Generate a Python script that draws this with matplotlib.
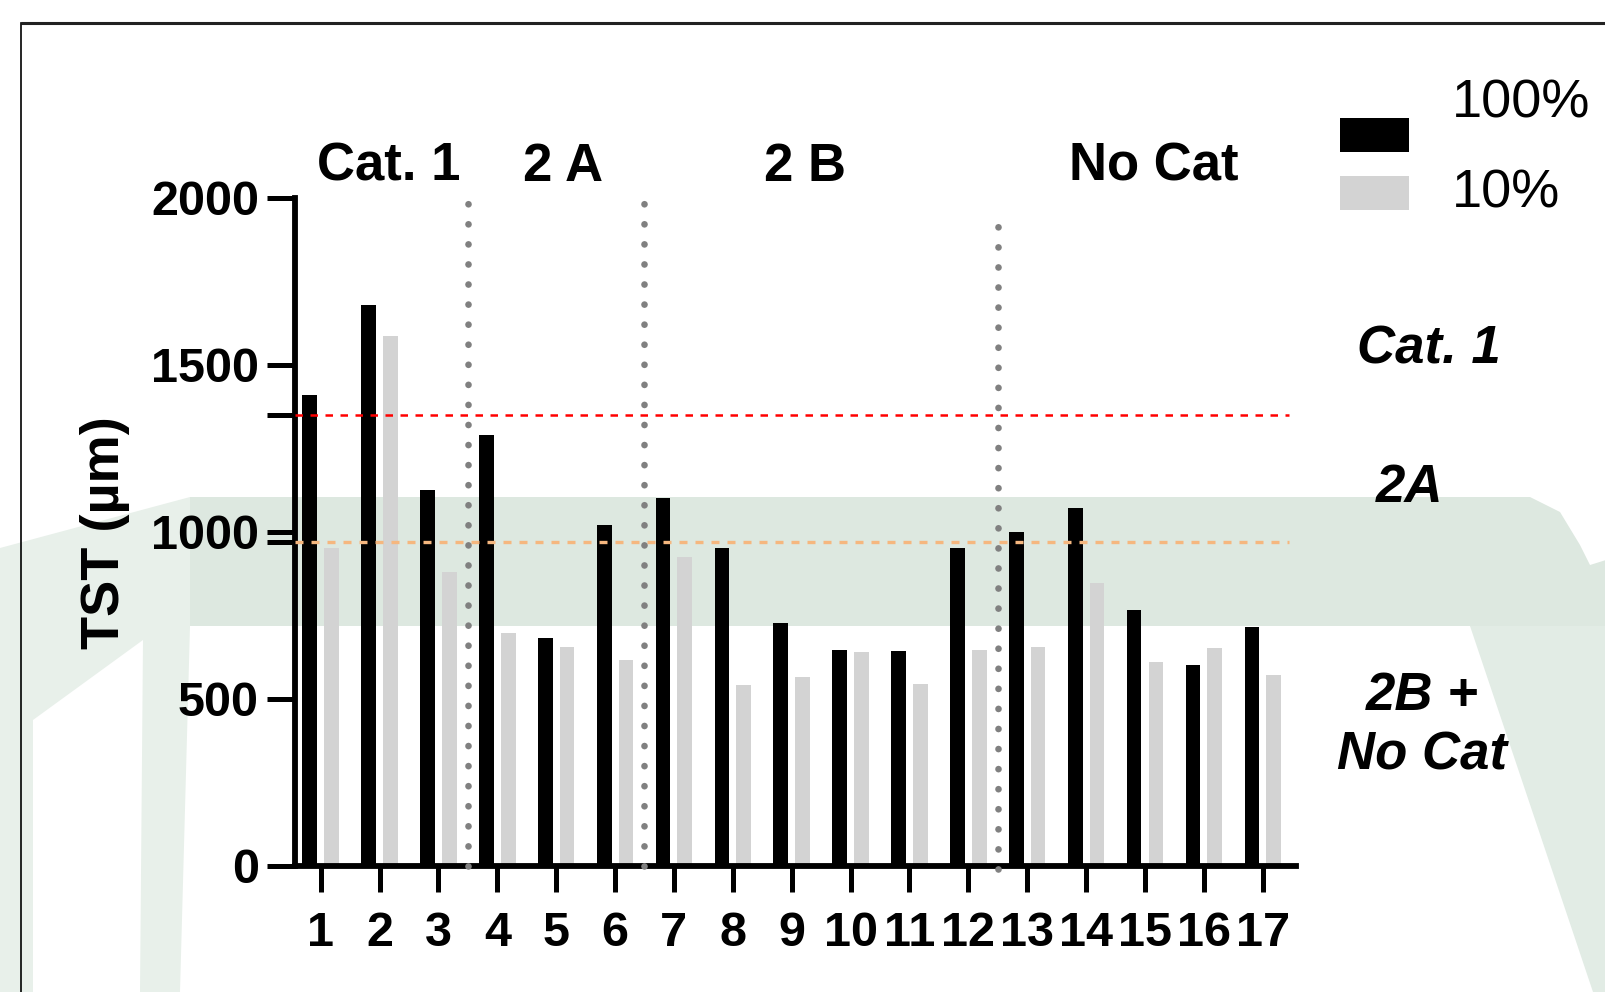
import numpy as np
import matplotlib
matplotlib.use('Agg')
from matplotlib import pyplot as plt
from matplotlib.patches import Rectangle, Polygon

plt.rcParams['font.family'] = ['Liberation Sans', 'DejaVu Sans']

# values
samples = list(range(1, 18))
tst_100 = [1410, 1680, 1125, 1290, 680, 1020, 1100, 950, 725, 645, 641, 950, 1000, 1070, 765, 600, 715]
tst_10 = [950, 1585, 880, 695, 655, 615, 925, 540, 565, 640, 545, 645, 655, 845, 610, 650, 570]
cat_names = ['Cat. 1', '2 A', '2 B', 'No Cat']
cat_pos = [2.15, 5.12, 9.23, 15.15]
splits = [3.5, 6.5, 12.5]
cut_cat1 = 1350
cut_2a = 970

fig = plt.figure(figsize=(16.06, 9.92), dpi=100)

# background: frame and faint watermark, in pixel coords
bg = fig.add_axes([0, 0, 1, 1], zorder=-1)
bg.set_xlim(0, 1606)
bg.set_ylim(992, 0)
bg.axis('off')
band = [(190, 497), (1530, 497), (1560, 512), (1580, 545), (1590, 565),
        (1606, 560), (1606, 640), (1494, 640), (1470, 626), (190, 626)]
left_leg = [(0, 548), (190, 497), (190, 626), (180, 992), (140, 992), (143, 640),
            (33, 720), (33, 992), (0, 992)]
right_leg = [(1470, 626), (1606, 626), (1606, 992), (1593, 992)]
bg.add_patch(Polygon(band, closed=True, facecolor='#dde8e0', edgecolor='none'))
bg.add_patch(Polygon(left_leg, closed=True, facecolor='#e8f0ea', edgecolor='none'))
bg.add_patch(Polygon(right_leg, closed=True, facecolor='#e2ece5', edgecolor='none'))
bg.plot([21, 1606], [23, 23], color='#222222', lw=2.2, solid_capstyle='butt')
bg.plot([21, 21], [23, 992], color='black', lw=1.2)

# legend drawn by hand
bg.add_patch(Rectangle((1340, 118), 69, 34, facecolor='black', edgecolor='none'))
bg.add_patch(Rectangle((1340, 176), 69, 34, facecolor='#d3d3d3', edgecolor='none'))
bg.text(1452, 104, '100%', fontsize=39, ha='left', va='center')
bg.text(1452, 194, '10%', fontsize=39, ha='left', va='center')

# category labels on the right
bg.text(1429, 350, 'Cat. 1', fontsize=38, fontweight='bold', style='italic', ha='center', va='center')
bg.text(1410, 488, '2A', fontsize=38, fontweight='bold', style='italic', ha='center', va='center')
bg.text(1422, 696, '2B +', fontsize=38, fontweight='bold', style='italic', ha='center', va='center')
bg.text(1422, 755, 'No Cat', fontsize=38, fontweight='bold', style='italic', ha='center', va='center')

bg.text(105, 533, 'TST (µm)', fontsize=39, fontweight='bold', rotation=90, ha='center', va='center')

ax = fig.add_axes([0.1837, 0.1275, 0.623, 0.6732])
ax.patch.set_alpha(0)

x = np.array(samples)
ax.bar(x - 0.185, tst_100, width=0.25, color='black', zorder=2)
ax.bar(x + 0.185, tst_10, width=0.25, color='#d3d3d3', zorder=2)

ax.hlines(cut_cat1, 0.565, 17.45, colors='#ff0000', lw=1.8, linestyles=(0, (3.0, 3.0)), zorder=3)
ax.hlines(cut_2a, 0.565, 17.45, colors='#f5b77f', lw=2.4, linestyles=(0, (2.4, 2.4)), zorder=3)
for i, s in enumerate(splits):
    top = 2000 if i < 2 else 1970
    bot = 0 if i < 2 else -10
    ax.plot([s, s], [bot, top], color='#808080', lw=4.8, linestyle=(0, (0.01, 3.0)),
            dash_capstyle='round', zorder=4, clip_on=False)

for name, p in zip(cat_names, cat_pos):
    ax.text(p, 2092, name, fontsize=38, fontweight='bold', ha='center', va='center', clip_on=False)

ax.set_xlim(0.565, 17.557)
ax.set_ylim(0, 2000)
ax.spines['top'].set_visible(False)
ax.spines['right'].set_visible(False)
ax.spines['left'].set_linewidth(4.2)
ax.spines['bottom'].set_linewidth(4.2)

yt = [0, 500, cut_2a, 1000, cut_cat1, 1500, 2000]
ax.set_yticks(yt)
ax.set_yticklabels(['0', '500', '', '1000', '', '1500', '2000'], fontweight='bold')
ax.set_xticks(x)
ax.set_xticklabels([str(s) for s in samples], fontweight='bold')
ax.tick_params(axis='y', direction='out', length=20, width=3.6, pad=6, labelsize=35)
ax.tick_params(axis='x', direction='out', length=19, width=3.6, pad=14, labelsize=35)

fig.savefig('out.png', dpi=100)
